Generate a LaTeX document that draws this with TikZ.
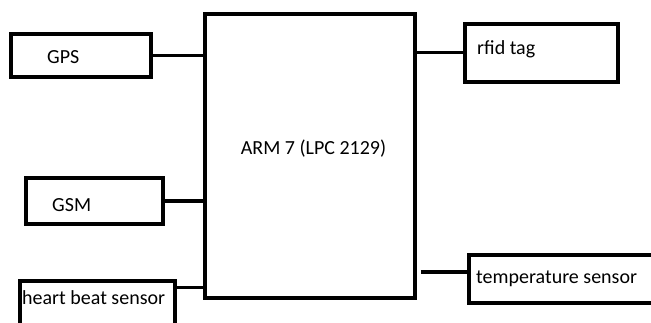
\documentclass[tikz,border=0pt]{standalone}
\usepackage{fontspec}
\setmainfont{Carlito}
\usetikzlibrary{positioning}
\tikzset{
  blk/.style={draw,line width=3.6pt,inner sep=0pt},
  lbl/.style={anchor=base west,inner sep=0pt,font=\fontsize{20}{24}\selectfont},
  wire/.style={line width=3.4pt}
}

\begin{document}
\begin{tikzpicture}[x=1pt,y=-1pt]
  \useasboundingbox (0,0) rectangle (651,322);
  \clip (0,0) rectangle (651,322);
  % controller
  \node[blk,minimum width=210pt,minimum height=284pt] (arm) at (310,156) {};
  \node[lbl,anchor=base] (armtxt) at (313.5,154) {ARM 7 (LPC 2129)};
  % left side blocks
  \node[blk,minimum width=140pt,minimum height=43pt] (gps) at (81,55.5) {};
  \node[lbl] (gpstxt) at (47,63) {GPS};
  \node[blk,minimum width=137pt,minimum height=46pt] (gsm) at (94.5,201) {};
  \node[lbl] (gsmtxt) at (52,211) {GSM};
  \node[blk,minimum width=155pt,minimum height=50pt] (heart) at (97.5,306) {};
  \node[lbl] (hearttxt) at (22,304) {heart beat sensor};
  % right side blocks
  \node[blk,minimum width=153pt,minimum height=58pt] (rfid) at (541.5,52.75) {};
  \node[lbl] (rfidtxt) at (477,54) {rfid tag};
  \node[blk,minimum width=200pt,minimum height=48pt] (temp) at (569,279) {};
  \node[lbl] (temptxt) at (476,283) {temperature sensor};
  % links
  \coordinate (heartout) at ([yshift=-8pt]heart.north east);
  \coordinate (tempin) at ([yshift=7pt]temp.west);
  \draw[wire] (gps.east) -- (gps.east -| arm.west);
  \draw[wire] (gsm.east) -- ([xshift=2pt]gsm.east -| arm.west);
  \draw[wire] (heartout) -- (heartout -| arm.west);
  \draw[wire] (arm.east |- rfid.west) -- (rfid.west);
  \draw[wire] ([xshift=4pt]arm.east |- tempin) -- (tempin);
\end{tikzpicture}
\end{document}
